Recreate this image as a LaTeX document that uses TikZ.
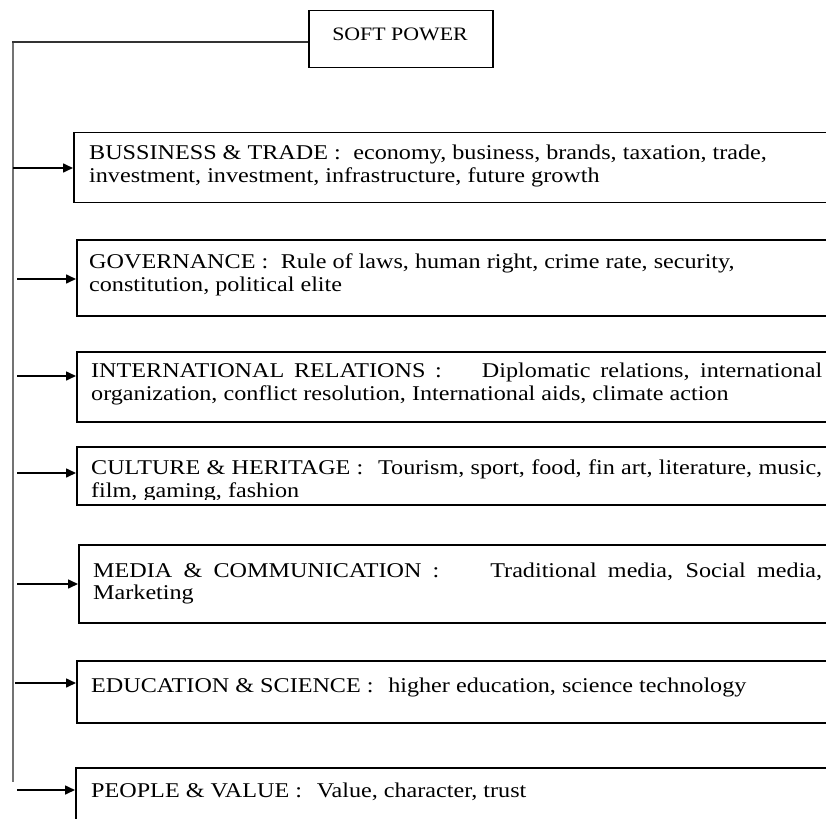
\documentclass[tikz,border=0pt]{standalone}
\usepackage{fontspec}
\setmainfont{Liberation Serif}[FakeStretch=1.15]
\usetikzlibrary{arrows.meta}
\begin{document}
\begin{tikzpicture}[x=1pt,y=-1pt,
  box/.style={draw=black,line width=1.5pt,inner sep=0pt,anchor=north west},
  txt/.style={inner sep=0pt,anchor=base west,font=\fontsize{21}{25}\selectfont},
  arr/.style={line width=1.6pt,-{Triangle[length=10pt,width=9pt]}},
  trunk/.style={draw=black!55,line width=1.2pt}]
\clip (0,0) rectangle (826,818);
\fill[white] (0,0) rectangle (826,818);
% title
\node[box,minimum width=184,minimum height=57] (sp) at (308,10) {};
\node[inner sep=0pt,anchor=base,font=\fontsize{19}{23}\selectfont] (spt) at (400,41) {SOFT POWER};
% trunk
\coordinate (t0) at (12,42);
\coordinate (t1) at (13,43);
\coordinate (t2) at (13,782);
\draw[line width=1.3pt,draw=black!80] (t0) -- (t0 -| sp.west);
\draw[trunk] (t1) -- (t2);
% boxes
\node[box,minimum width=780,minimum height=70] (b1) at (73,132) {};
\node[box,minimum width=780,minimum height=76] (b2) at (76,239) {};
\node[box,minimum width=780,minimum height=70] (b3) at (76,351) {};
\node[box,minimum width=780,minimum height=58] (b4) at (76,446) {};
\node[box,minimum width=780,minimum height=78] (b5) at (78,544) {};
\node[box,minimum width=780,minimum height=62] (b6) at (76,660) {};
\node[box,minimum width=780,minimum height=80] (b7) at (75,767) {};
% texts
\node[txt] (l11) at (89,160) {BUSSINESS \& TRADE :\hspace{0.6em}economy, business, brands, taxation, trade,};
\node[txt] (l12) at (89,183) {investment, investment, infrastructure, future growth};
\node[txt] (l21) at (89,268) {GOVERNANCE :\hspace{0.6em}Rule of laws, human right, crime rate, security,};
\node[txt] (l22) at (89,291) {constitution, political elite};
\node[txt] (l31) at (91,377) {\makebox[731pt][s]{INTERNATIONAL RELATIONS :\hspace{0.7em plus 1em}Diplomatic relations, international}};
\node[txt] (l32) at (91,400) {organization, conflict resolution, International aids, climate action};
\node[txt] (l41) at (91,474) {\makebox[731pt][s]{CULTURE \& HERITAGE :\hspace{0.7em}Tourism, sport, food, fin art, literature, music,}};
\begin{scope}
\clip (80,480) rectangle (826,499);
\node[txt] (l42) at (91,497) {film, gaming, fashion};
\end{scope}
\node[txt] (l51) at (93,577) {\makebox[729pt][s]{MEDIA \& COMMUNICATION :\hspace{0.7em plus 1em}Traditional media, Social media,}};
\node[txt] (l52) at (93,599) {Marketing};
\node[txt] (l61) at (91,692) {EDUCATION \& SCIENCE :\hspace{0.7em}higher education, science technology};
\node[txt] (l71) at (91,797) {PEOPLE \& VALUE :\hspace{0.7em}Value, character, trust};
% arrows
\coordinate (s1) at (13,168);
\coordinate (s2) at (17,279);
\coordinate (s3) at (17,376);
\coordinate (s4) at (17,473);
\coordinate (s5) at (17,584);
\coordinate (s6) at (15,683);
\coordinate (s7) at (17,790);
\draw[arr] (s1) -- (s1 -| b1.west);
\draw[arr] (s2) -- (s2 -| b2.west);
\draw[arr] (s3) -- (s3 -| b3.west);
\draw[arr] (s4) -- (s4 -| b4.west);
\draw[arr] (s5) -- (s5 -| b5.west);
\draw[arr] (s6) -- (s6 -| b6.west);
\draw[arr] (s7) -- (s7 -| b7.west);
\end{tikzpicture}
\end{document}
